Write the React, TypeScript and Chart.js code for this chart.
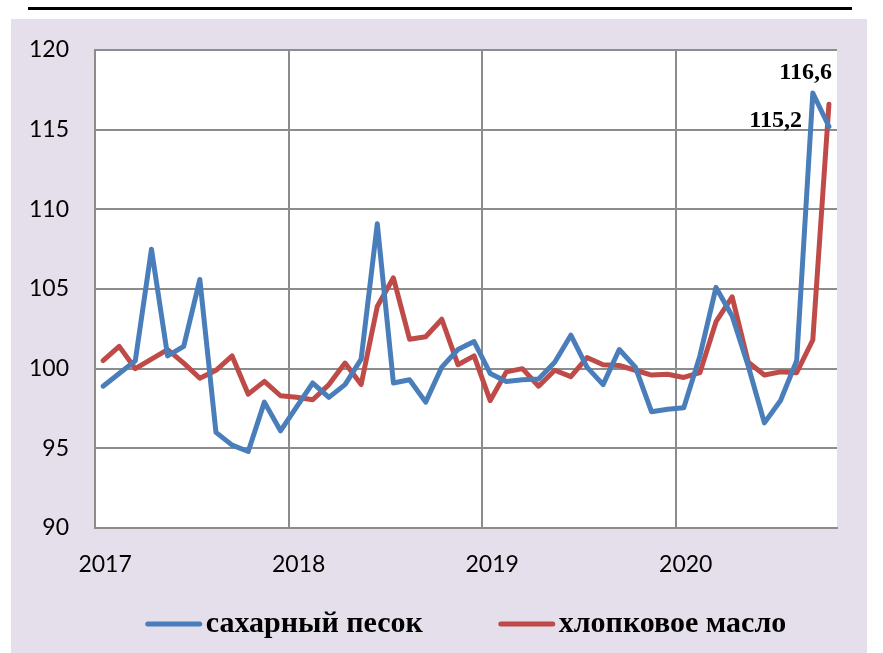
import React, { useEffect, useRef } from 'react';
import { Chart, registerables } from 'chart.js';

Chart.register(...registerables);

const months = [
  '01.2017', '02.2017', '03.2017', '04.2017', '05.2017', '06.2017', '07.2017', '08.2017', '09.2017', '10.2017', '11.2017', '12.2017',
  '01.2018', '02.2018', '03.2018', '04.2018', '05.2018', '06.2018', '07.2018', '08.2018', '09.2018', '10.2018', '11.2018', '12.2018',
  '01.2019', '02.2019', '03.2019', '04.2019', '05.2019', '06.2019', '07.2019', '08.2019', '09.2019', '10.2019', '11.2019', '12.2019',
  '01.2020', '02.2020', '03.2020', '04.2020', '05.2020', '06.2020', '07.2020', '08.2020', '09.2020', '10.2020',
];

const yearLabels = ['2017', '2018', '2019', '2020'];

const sugar = [
  98.9, 99.7, 100.5, 107.5, 100.8, 101.4, 105.6, 96.0, 95.2, 94.8, 97.9, 96.1,
  97.6, 99.1, 98.2, 99.0, 100.6, 109.1, 99.1, 99.3, 97.9, 100.1, 101.2, 101.7,
  99.7, 99.2, 99.3, 99.35, 100.4, 102.1, 100.1, 99.0, 101.2, 100.1, 97.3, 97.45,
  97.55, 100.8, 105.1, 103.3, 100.15, 96.6, 98.0, 100.5, 117.3, 115.2,
];

const cottonOil = [
  100.5, 101.4, 100.0, 100.6, 101.2, 100.35, 99.4, 99.9, 100.8, 98.4, 99.2, 98.3,
  98.2, 98.05, 99.0, 100.35, 99.0, 103.9, 105.7, 101.85, 102.0, 103.1, 100.25, 100.8,
  98.0, 99.8, 100.0, 98.9, 99.9, 99.5, 100.7, 100.25, 100.2, 99.9, 99.6, 99.65,
  99.45, 99.75, 102.95, 104.5, 100.4, 99.6, 99.8, 99.75, 101.8, 116.6,
];

const seriesNames = ['сахарный песок', 'хлопковое масло'];
const seriesColors = ['#4a7ebb', '#be4b48'];

const GRID = '#8c8c8c';
const TICK_FAMILY = 'Lato, "Open Sans", sans-serif';
const SERIF = '"Liberation Serif", "DejaVu Serif", serif';

const plotBackground = {
  id: 'plotBackground',
  beforeDraw(chart: any) {
    const { ctx, chartArea: a } = chart;
    ctx.save();
    ctx.fillStyle = '#ffffff';
    ctx.fillRect(a.left, a.top, a.right - a.left, a.bottom - a.top);
    ctx.restore();
  },
};

// label offsets relative to the last point of each dataset (style only)
const endLabelOffsets = [
  { dx: -27, dy: -6 },
  { dx: 3, dy: -31 },
];

const endLabels = {
  id: 'endLabels',
  afterDatasetsDraw(chart: any) {
    const { ctx } = chart;
    ctx.save();
    ctx.font = `bold 24px ${SERIF}`;
    ctx.fillStyle = '#000';
    ctx.textAlign = 'right';
    ctx.textBaseline = 'middle';
    chart.data.datasets.forEach((ds: any, i: number) => {
      const meta = chart.getDatasetMeta(i);
      const last = meta.data[meta.data.length - 1];
      const v = ds.data[ds.data.length - 1] as number;
      const txt = v.toFixed(1).replace('.', ',');
      const off = endLabelOffsets[i];
      ctx.fillText(txt, last.x + off.dx, last.y + off.dy);
    });
    ctx.restore();
  },
};

const customLegend = {
  id: 'customLegend',
  afterDraw(chart: any) {
    const { ctx, chartArea: a } = chart;
    const lineW = 56;
    const gap = 4;
    const itemGap = 76;
    ctx.save();
    ctx.font = `bold 30px ${SERIF}`;
    const items = chart.data.datasets.map((ds: any) => ({
      text: ds.label as string,
      color: ds.borderColor as string,
      w: ctx.measureText(ds.label).width,
    }));
    const total = items.reduce((s: number, it: any) => s + lineW + gap + it.w, 0) + itemGap * (items.length - 1);
    let x = (a.left + a.right) / 2 - total / 2;
    const y = chart.height - 29;
    items.forEach((it: any) => {
      ctx.strokeStyle = it.color;
      ctx.lineWidth = 5;
      ctx.lineCap = 'round';
      ctx.beginPath();
      ctx.moveTo(x + 2, y);
      ctx.lineTo(x + lineW - 2, y);
      ctx.stroke();
      ctx.fillStyle = '#000';
      ctx.textAlign = 'left';
      ctx.textBaseline = 'middle';
      ctx.fillText(it.text, x + lineW + gap, y);
      x += lineW + gap + it.w + itemGap;
    });
    ctx.restore();
  },
};

export default function App() {
  const ref = useRef<HTMLCanvasElement | null>(null);

  useEffect(() => {
    if (!ref.current) return;
    const chart = new Chart(ref.current, {
      type: 'line',
      data: {
        labels: months,
        datasets: [
          {
            label: seriesNames[0],
            data: sugar,
            borderColor: seriesColors[0],
            backgroundColor: seriesColors[0],
            borderWidth: 5,
            pointRadius: 0,
            tension: 0,
            borderJoinStyle: 'round',
            borderCapStyle: 'round',
          },
          {
            label: seriesNames[1],
            data: cottonOil,
            borderColor: seriesColors[1],
            backgroundColor: seriesColors[1],
            borderWidth: 5,
            pointRadius: 0,
            tension: 0,
            borderJoinStyle: 'round',
            borderCapStyle: 'round',
          },
        ],
      },
      options: {
        animation: false,
        responsive: false,
        layout: { padding: { left: 0, top: 31, right: 30, bottom: 0 } },
        plugins: {
          legend: { display: false },
          tooltip: { enabled: false },
        },
        scales: {
          x: {
            type: 'category',
            offset: true,
            grid: {
              offset: true,
              drawTicks: false,
              lineWidth: 2,
              color: (c: any) => (c.index % 12 === 0 ? GRID : 'rgba(0,0,0,0)'),
            },
            border: { display: true, color: GRID, width: 2 },
            ticks: {
              autoSkip: false,
              maxRotation: 0,
              minRotation: 0,
              padding: 23,
              labelOffset: 2,
              color: '#000',
              font: { family: TICK_FAMILY, size: 23 },
              callback: (_v: any, i: number) => (i % 12 === 0 ? yearLabels[i / 12] : ''),
            },
            afterFit: (s: any) => {
              s.height = 125;
            },
          },
          y: {
            min: 90,
            max: 120,
            grid: { drawTicks: false, lineWidth: 2, color: GRID },
            border: { display: true, color: GRID, width: 2 },
            ticks: {
              stepSize: 5,
              padding: 26,
              color: '#000',
              font: { family: TICK_FAMILY, size: 23 },
            },
            afterFit: (s: any) => {
              s.width = 84;
              s.paddingTop = 0;
              s.paddingBottom = 0;
            },
          },
        },
      },
      plugins: [plotBackground, endLabels, customLegend],
    });
    return () => chart.destroy();
  }, []);

  return (
    <div style={{ position: 'absolute', left: 0, top: 0, width: 883, height: 653, background: '#ffffff', overflow: 'hidden' }}>
      <div style={{ position: 'absolute', left: 28, top: 7, width: 824, height: 3, background: '#000' }} />
      <div style={{ position: 'absolute', left: 11, top: 19, width: 856, height: 634, background: '#e5dfec' }}>
        <canvas ref={ref} width={856} height={634} style={{ display: 'block', width: 856, height: 634 }} />
      </div>
    </div>
  );
}
